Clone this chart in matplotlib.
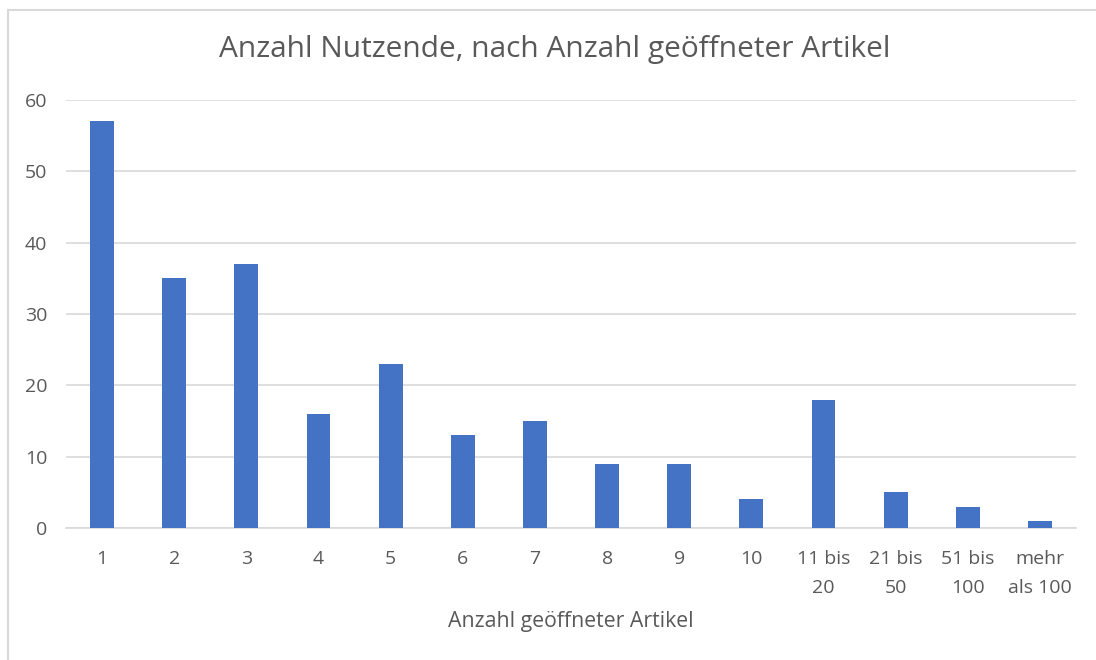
import matplotlib
matplotlib.use("Agg")
import matplotlib.pyplot as plt

categories = ["1", "2", "3", "4", "5", "6", "7", "8", "9", "10",
              "11 bis\n20", "21 bis\n50", "51 bis\n100", "mehr\nals 100"]
values = [57, 35, 37, 16, 23, 13, 15, 9, 9, 4, 18, 5, 3, 1]
yticks = [0, 10, 20, 30, 40, 50, 60]

plt.rcParams['font.family'] = ['Open Sans', 'DejaVu Sans']
txt = '#595959'
W, H = 1096, 660
fig = plt.figure(figsize=(W / 100, H / 100), dpi=100)
fig.patch.set_facecolor('white')

# chart border (left & top visible)
fig.add_artist(plt.Line2D([8 / W, 8 / W], [0, 1 - 10 / H], color='#d9d9d9', lw=1.5,
                          transform=fig.transFigure))
fig.add_artist(plt.Line2D([8 / W, 1], [1 - 10 / H, 1 - 10 / H], color='#d9d9d9', lw=1.5,
                          transform=fig.transFigure))

left, right, top, bottom = 66, 1076, 100, 528
ax = fig.add_axes([left / W, 1 - bottom / H, (right - left) / W, (bottom - top) / H])
x = list(range(len(categories)))
ax.bar(x, values, width=0.33, color='#4472C4', zorder=3)
ax.set_xlim(-0.5, len(categories) - 0.5)
ax.set_ylim(0, 60)
ax.set_yticks(yticks)
ax.set_xticks(x)
ax.set_xticklabels(categories, linespacing=1.75)
ax.grid(axis='y', color='#d9d9d9', lw=1.2, zorder=0)
for s in ['top', 'right', 'left']:
    ax.spines[s].set_visible(False)
ax.spines['bottom'].set_color('#d9d9d9')
ax.spines['bottom'].set_linewidth(1.2)
ax.tick_params(axis='both', length=0, labelsize=14, labelcolor=txt)
ax.tick_params(axis='x', pad=16)
ax.tick_params(axis='y', pad=13.5)

ax.set_xlabel("Anzahl geöffneter Artikel", fontsize=15.3, color=txt, labelpad=10)
fig.text(555 / W, 1 - 50 / H, "Anzahl Nutzende, nach Anzahl geöffneter Artikel",
         ha='center', va='center', fontsize=21.5, color=txt)

fig.savefig("out.png", dpi=100)
